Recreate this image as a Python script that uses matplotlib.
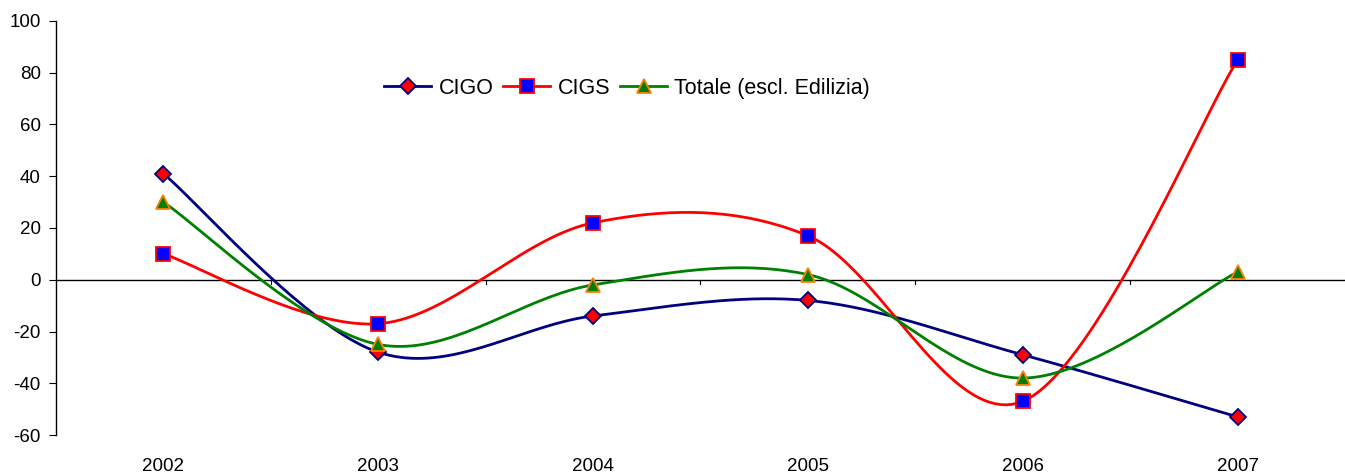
import numpy as np
import matplotlib.pyplot as plt

years = ['2002', '2003', '2004', '2005', '2006', '2007']
cigo = [41, -28, -14, -8, -29, -53]
cigs = [10, -17, 22, 17, -47, 85]
totale = [30, -25, -2, 2, -38, 3]

plt.rcParams['font.family'] = ['Liberation Sans', 'DejaVu Sans']
plt.rcParams['axes.unicode_minus'] = False


# Excel-style smoothed line (cubic Bezier through the points)
def smooth(x, y, n=40):
    x = np.asarray(x, float)
    y = np.asarray(y, float)
    px = np.concatenate([[x[0]], x, [x[-1]]])
    py = np.concatenate([[y[0]], y, [y[-1]]])
    xs, ys = [], []
    t = np.linspace(0, 1, n)
    for i in range(1, len(px) - 2):
        p0 = np.array([px[i], py[i]])
        p3 = np.array([px[i + 1], py[i + 1]])
        c1 = p0 + (np.array([px[i + 1], py[i + 1]]) - np.array([px[i - 1], py[i - 1]])) / 6
        c2 = p3 - (np.array([px[i + 2], py[i + 2]]) - np.array([px[i], py[i]])) / 6
        b = ((1 - t) ** 3)[:, None] * p0 + (3 * (1 - t) ** 2 * t)[:, None] * c1 \
            + (3 * (1 - t) * t ** 2)[:, None] * c2 + (t ** 3)[:, None] * p3
        xs.extend(b[:, 0])
        ys.extend(b[:, 1])
    return xs, ys


fig = plt.figure(figsize=(13.45, 4.74), dpi=100)
ax = fig.add_axes([56 / 1345, 39 / 474, 1289 / 1345, 414 / 474])

x = np.arange(len(years))
series = [
    (cigo, 'CIGO', '#000080', 'D', 'red', '#000080', 8.5),
    (cigs, 'CIGS', 'red', 's', 'blue', 'red', 9.5),
    (totale, 'Totale (escl. Edilizia)', 'green', '^', 'green', '#ff7f00', 10),
]
for vals, lab, col, mk, face, edge, ms in series:
    sx, sy = smooth(x, vals)
    ax.plot(sx, sy, color=col, lw=2, zorder=3)
    ax.plot(x, vals, linestyle='none', marker=mk, markersize=ms,
            markerfacecolor=face, markeredgecolor=edge, markeredgewidth=1.3, zorder=4)
    ax.plot([], [], color=col, lw=2, marker=mk, markersize=ms,
            markerfacecolor=face, markeredgecolor=edge, markeredgewidth=1.3, label=lab)

ax.set_xlim(-0.5, 5.5)
ax.set_ylim(-60, 100)
ax.set_yticks(range(-60, 101, 20))
ax.set_xticks([])

# category axis crossing at zero, with small ticks between categories
ax.axhline(0, color='black', lw=1, zorder=2)
for b in np.arange(0.5, 5.0, 1.0):
    ax.plot([b, b], [0, -1.6], color='black', lw=0.8, zorder=2)
for i, yr in enumerate(years):
    ax.text(x[i], -72, yr, ha='center', va='center', fontsize=13.5)

for s in ['top', 'right', 'bottom']:
    ax.spines[s].set_visible(False)
ax.spines['left'].set_linewidth(1)
ax.tick_params(axis='y', direction='out', length=5, labelsize=13.5, pad=6)

ax.legend(loc='center', bbox_to_anchor=(0.443, 0.838), ncol=3, frameon=False,
          fontsize=15.5, handlelength=2.2, handletextpad=0.33, columnspacing=0.45)

plt.savefig('out.png', dpi=100)
